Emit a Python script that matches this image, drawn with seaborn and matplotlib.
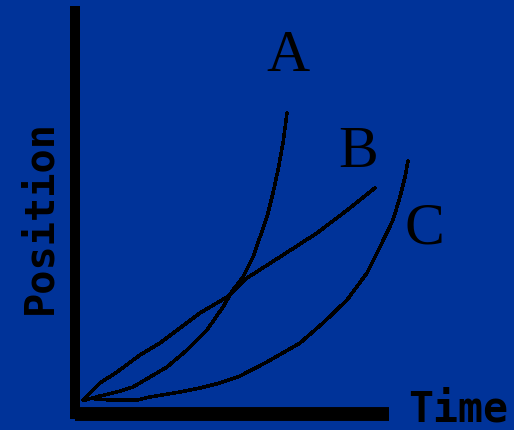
import matplotlib
matplotlib.use('Agg')
import matplotlib.pyplot as plt
import seaborn as sns
import pandas as pd

# curve samples (time, position)
a_time = [10, 25, 42, 58, 75, 92, 112, 132, 148, 158, 168, 178, 185, 192, 198, 203, 208, 212]
a_pos = [14, 18, 22, 27, 37, 47, 64, 84, 107, 124, 137, 157, 177, 197, 221, 244, 271, 301]

b_time = [8, 25, 42, 65, 85, 125, 152, 172, 208, 242, 275, 300]
b_pos = [14, 31, 42, 59, 71, 101, 117, 136, 159, 181, 206, 226]

c_time = [20, 35, 62, 75, 105, 125, 145, 165, 192, 225, 248, 272, 292, 305, 318, 325, 330, 333]
c_pos = [15, 14, 14, 17, 22, 26, 31, 38, 52, 71, 91, 114, 141, 167, 194, 217, 237, 253]

curve_names = ["A", "B", "C"]
label_time = [213, 283, 349]
label_pos = [357, 261, 185]

bg = "#003399"

frames = []
for name, t, p in zip(curve_names, [a_time, b_time, c_time], [a_pos, b_pos, c_pos]):
    frames.append(pd.DataFrame({"time": t, "position": p, "curve": name}))
df = pd.concat(frames, ignore_index=True)

sns.set_theme(style="white", rc={"axes.facecolor": bg, "figure.facecolor": bg})

fig = plt.figure(figsize=(5.14, 4.30), dpi=100)
ax = fig.add_axes([75 / 514, 16 / 430, 314 / 514, 403 / 430])
ax.set_facecolor(bg)

sns.lineplot(data=df, x="time", y="position", units="curve", estimator=None,
             sort=False, color="black", linewidth=1.8, ax=ax, legend=False)
for line in ax.lines:
    line.set_antialiased(False)
    line.set_clip_on(False)

ax.set_xlim(0, 314)
ax.set_ylim(0, 403)
ax.set_xticks([])
ax.set_yticks([])
ax.set_xlabel("")
ax.set_ylabel("")

for side in ["top", "right"]:
    ax.spines[side].set_visible(False)
ax.spines["left"].set_color("black")
ax.spines["left"].set_linewidth(7.2)
ax.spines["left"].set_capstyle("projecting")
ax.spines["bottom"].set_color("black")
ax.spines["bottom"].set_linewidth(10)
ax.spines["bottom"].set_capstyle("butt")

for name, tx, ty in zip(curve_names, label_time, label_pos):
    ax.text(tx, ty, name, ha="center", va="center", fontsize=43,
            family="Liberation Serif", color="black", clip_on=False)

fig.text(458 / 514, 1 - 410 / 430, "Time", ha="center", va="center",
         fontsize=30, family="DejaVu Sans Mono", fontweight="bold", color="black")
fig.text(40 / 514, 1 - 217 / 430, "Position", ha="center", va="center",
         rotation=90, fontsize=29, family="DejaVu Sans Mono", fontweight="bold",
         color="black")

fig.savefig("out.png", dpi=100, facecolor=bg)
plt.close(fig)
